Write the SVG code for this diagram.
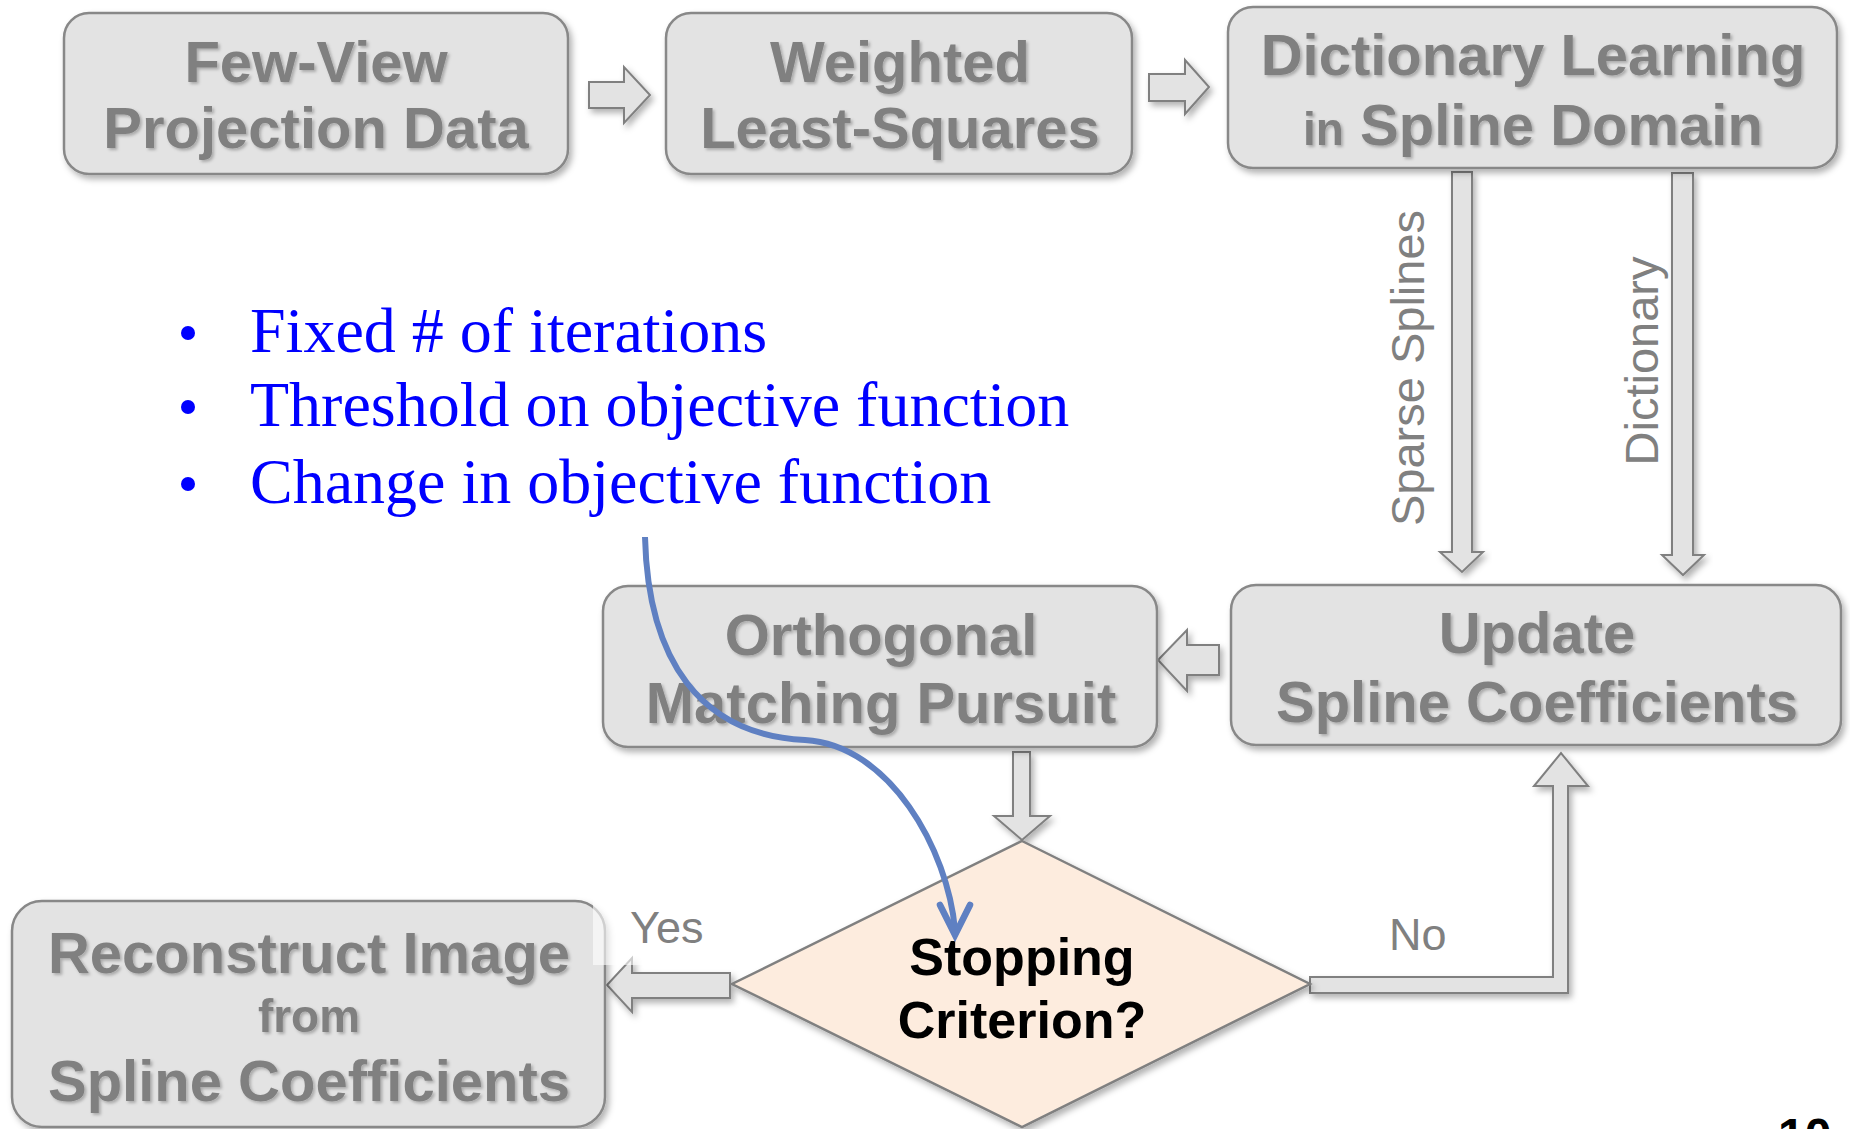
<svg xmlns="http://www.w3.org/2000/svg" width="1850" height="1129" viewBox="0 0 1850 1129">
<defs>
<filter id="sh" x="-10%" y="-10%" width="130%" height="140%">
<feDropShadow dx="3" dy="4" stdDeviation="3" flood-color="#000" flood-opacity="0.3"/>
</filter>
<filter id="tsh" x="-5%" y="-20%" width="110%" height="150%">
<feDropShadow dx="2" dy="2" stdDeviation="1.5" flood-color="#000" flood-opacity="0.25"/>
</filter>
</defs>
<style>
.box{fill:#e3e3e3;stroke:#888888;stroke-width:2.5}
.blk{fill:#e3e3e3;stroke:#808080;stroke-width:2}
.bt{font-family:"Liberation Sans",Arial,sans-serif;font-weight:bold;fill:#808080;text-anchor:middle;font-size:58px}
.sm{font-size:46px}
.lbl{font-family:"Liberation Sans",Arial,sans-serif;fill:#808080;font-size:45px}
.rot{font-size:47px;text-anchor:middle}
.bul{font-family:"Liberation Serif","Times New Roman",serif;fill:#0000ff;font-size:64px}
</style>
<rect width="1850" height="1129" fill="#ffffff"/>

<g id="connectors">
<polygon class="blk" filter="url(#sh)" points="589,82 624,82 624,67 650,95 624,123 624,108 589,108"/>
<polygon class="blk" filter="url(#sh)" points="1149,74 1185,74 1185,60 1209,87 1185,114 1185,101 1149,101"/>
<polygon class="blk" filter="url(#sh)" points="1452,172 1472,172 1472,552 1483,552 1462,572 1440,552 1452,552"/>
<polygon class="blk" filter="url(#sh)" points="1672,173 1693,173 1693,555 1704,555 1683,575 1662,555 1672,555"/>
<polygon class="blk" filter="url(#sh)" points="1219,645 1187,645 1187,630 1158,660 1187,691 1187,675 1219,675"/>
<polygon class="blk" filter="url(#sh)" points="1013,752 1030,752 1030,816 1050,816 1022,840 994,816 1013,816"/>
<polygon class="blk" filter="url(#sh)" points="1310,977 1553,977 1553,786 1534,786 1561,753 1588,786 1568,786 1568,993 1310,993"/>
<polygon class="blk" filter="url(#sh)" points="730,973 632,973 632,958 607,985 632,1012 632,998 730,998"/>
<text class="lbl rot" transform="rotate(-90 1424 368)" x="1424" y="368">Sparse Splines</text>
<text class="lbl rot" transform="rotate(-90 1658 361)" x="1658" y="361">Dictionary</text>
<text class="lbl" x="1389" y="950">No</text>
</g>

<g id="n1">
<rect class="box" filter="url(#sh)" x="64" y="13" width="504" height="161" rx="25"/>
<text class="bt" filter="url(#tsh)" x="316" y="82">Few-View</text>
<text class="bt" filter="url(#tsh)" x="316" y="148">Projection Data</text>
</g>
<g id="n2">
<rect class="box" filter="url(#sh)" x="666" y="13" width="466" height="161" rx="25"/>
<text class="bt" filter="url(#tsh)" x="900" y="82">Weighted</text>
<text class="bt" filter="url(#tsh)" x="900" y="148">Least-Squares</text>
</g>
<g id="n3">
<rect class="box" filter="url(#sh)" x="1228" y="7" width="609" height="161" rx="25"/>
<text class="bt" filter="url(#tsh)" x="1533" y="75">Dictionary Learning</text>
<text class="bt" filter="url(#tsh)" x="1533" y="145"><tspan class="sm">in</tspan> Spline Domain</text>
</g>
<g id="n4">
<rect class="box" filter="url(#sh)" x="603" y="586" width="554" height="161" rx="25"/>
<text class="bt" filter="url(#tsh)" x="881" y="655">Orthogonal</text>
<text class="bt" filter="url(#tsh)" x="881" y="723">Matching Pursuit</text>
</g>
<g id="n5">
<rect class="box" filter="url(#sh)" x="1231" y="585" width="610" height="160" rx="25"/>
<text class="bt" filter="url(#tsh)" x="1537" y="653">Update</text>
<text class="bt" filter="url(#tsh)" x="1537" y="722">Spline Coefficients</text>
</g>
<g id="n6">
<rect class="box" filter="url(#sh)" x="12" y="901" width="593" height="226" rx="30"/>
<text class="bt" filter="url(#tsh)" x="309" y="973">Reconstruct Image</text>
<text class="bt sm" filter="url(#tsh)" x="309" y="1032">from</text>
<text class="bt" filter="url(#tsh)" x="309" y="1101">Spline Coefficients</text>
</g>
<g id="yes">
<rect x="593" y="870" width="130" height="95" fill="#ffffff" fill-opacity="0.6"/>
<text class="lbl" x="630" y="943">Yes</text>
</g>
<g id="n7">
<polygon filter="url(#sh)" points="1022,841 1310,984 1022,1127 732,984" fill="#fdecde" stroke="#808080" stroke-width="2.5"/>
<text x="1022" y="975" font-family="Liberation Sans,Arial,sans-serif" font-weight="bold" font-size="52" text-anchor="middle" fill="#000">Stopping</text>
<text x="1022" y="1038" font-family="Liberation Sans,Arial,sans-serif" font-weight="bold" font-size="52" text-anchor="middle" fill="#000">Criterion?</text>
</g>

<g id="notes">
<circle cx="188" cy="333" r="7" fill="#0000ff"/>
<circle cx="188" cy="407" r="7" fill="#0000ff"/>
<circle cx="188" cy="484" r="7" fill="#0000ff"/>
<text class="bul" x="250" y="352">Fixed # of iterations</text>
<text class="bul" x="250" y="426">Threshold on objective function</text>
<text class="bul" x="250" y="503">Change in objective function</text>
</g>

<g id="pointer">
<path d="M 645 537 C 648 660, 700 735, 805 740 C 890 745, 948 850, 955 930" fill="none" stroke="#5f80c2" stroke-width="6"/>
<polyline points="940,905 955,935 970,905" fill="none" stroke="#5f80c2" stroke-width="6.5" stroke-linejoin="miter" stroke-linecap="round"/>
</g>

<text x="1778" y="1152" font-family="Liberation Sans,Arial,sans-serif" font-weight="bold" font-size="48" fill="#000">10</text>
</svg>
